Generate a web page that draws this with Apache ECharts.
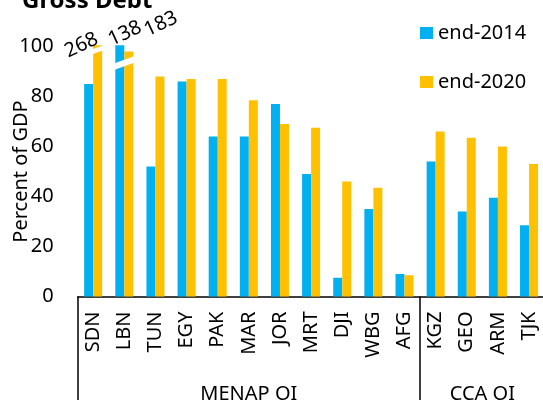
<!DOCTYPE html>
<html>
<head>
<meta charset="utf-8">
<script src="https://cdn.jsdelivr.net/npm/echarts@6/dist/echarts.min.js"></script>
<style>html,body{margin:0;padding:0;background:#fff;}#c{width:543px;height:400px;}</style>
</head>
<body>
<div id="c"></div>
<script>
// ---- data ----
const categories = ['SDN','LBN','TUN','EGY','PAK','MAR','JOR','MRT','DJI','WBG','AFG','KGZ','GEO','ARM','TJK'];
const end2014 = [85, 138, 52, 86, 64, 64, 77, 49, 7.5, 35, 9, 54, 34, 39.5, 28.5];
const end2020 = [268, 183, 88, 87, 87, 78.5, 69, 67.5, 46, 43.5, 8.5, 66, 63.5, 60, 53];
const seriesNames = ['end-2014', 'end-2020'];
const groups = [{name: 'MENAP OI', from: 0, to: 10}, {name: 'CCA OI', from: 11, to: 14}];
const yTicks = [0, 20, 40, 60, 80, 100];
// values beyond the axis are drawn truncated (broken bars)
const truncated = { 'end-2014': {LBN: 100.5}, 'end-2020': {SDN: 100.5, LBN: 98} };

// ---- styling ----
const FONT = 'Noto Sans';
const BLUE = '#00B0F0', GOLD = '#FFC000';
const BAR_W = 9;

function shown(name, arr) {
  return arr.map((v, i) => {
    const cap = truncated[name][categories[i]];
    return cap !== undefined ? Math.min(v, cap) : v;
  });
}

const chart = echarts.init(document.getElementById('c'), null, {renderer: 'canvas'});
chart.setOption({
  animation: false,
  textStyle: {fontFamily: FONT},
  grid: {left: 77.6, top: 46.5, width: 467, height: 250, containLabel: false, outerBoundsMode: 'none'},
  legend: {
    orient: 'vertical', left: 420, top: 23, padding: 0, itemWidth: 13, itemHeight: 12, itemGap: 29,
    icon: 'rect', data: seriesNames,
    textStyle: {fontFamily: FONT, fontSize: 20, color: '#000', lineHeight: 20}
  },
  xAxis: {
    type: 'category', data: categories,
    axisLine: {lineStyle: {color: '#000', width: 1.5}},
    axisTick: {show: true, length: 104, lineStyle: {color: '#000', width: 1.5},
      interval: (idx) => groups.some(g => g.from === idx)},
    axisLabel: {rotate: 90, margin: 15, fontFamily: FONT, fontSize: 20, color: '#000', interval: 0}
  },
  yAxis: {
    type: 'value', min: 0, max: yTicks[yTicks.length - 1], interval: 20,
    name: 'Percent of GDP', nameLocation: 'middle', nameRotate: 90, nameGap: 46, nameMoveOverlap: false,
    nameTextStyle: {fontFamily: FONT, fontSize: 20, color: '#000'},
    axisLine: {show: false}, axisTick: {show: false}, splitLine: {show: false},
    axisLabel: {margin: 24, fontFamily: FONT, fontSize: 20, color: '#000'}
  },
  series: [
    {name: seriesNames[0], type: 'bar', data: shown('end-2014', end2014), barWidth: BAR_W, barGap: '0%',
     itemStyle: {color: BLUE}, clip: false},
    {name: seriesNames[1], type: 'bar', data: shown('end-2020', end2020), barWidth: BAR_W, barGap: '0%',
     itemStyle: {color: GOLD}, clip: false}
  ]
});

// ---- decorations computed via axis scales ----
const px = (ci, v) => chart.convertToPixel({xAxisIndex: 0, yAxisIndex: 0}, [ci, v]);
const g = [];
// title
g.push({type: 'text', left: 22, top: -11, style: {text: 'Gross Debt', fontFamily: FONT, fontSize: 24, fontWeight: 'bold', fill: '#000'}});
// group labels
groups.forEach(gr => {
  const a = px(gr.from, 0)[0], b = px(gr.to, 0)[0];
  g.push({type: 'text', x: (a + b) / 2, y: 394, style: {text: gr.name, fontFamily: FONT, fontSize: 20, fill: '#000', align: 'center', verticalAlign: 'middle'}});
});
// break marks (white slanted bands)
const breakMarks = [
  {cat: 'SDN', from: -1, to: 11, at: 98, thick: 5},
  {cat: 'LBN', from: -11, to: 11, at: 93.4, thick: 6.5}
];
const SLOPE = -0.36;
breakMarks.forEach(b => {
  const ci = categories.indexOf(b.cat);
  const c = px(ci, b.at);
  const xc = c[0], yc = c[1];
  const x0 = xc + b.from, x1 = xc + b.to;
  const y0 = yc + SLOPE * (x0 - xc), y1 = yc + SLOPE * (x1 - xc);
  g.push({type: 'polygon', shape: {points: [[x0, y0 - b.thick / 2], [x1, y1 - b.thick / 2], [x1, y1 + b.thick / 2], [x0, y0 + b.thick / 2]]}, style: {fill: '#fff'}, z: 100});
});
// true values of truncated bars
const breakLabels = [
  {cat: 'SDN', series: 1, dx: -16.2, dy: 0},
  {cat: 'LBN', series: 0, dx: 5.2, dy: -11.7},
  {cat: 'LBN', series: 1, dx: 32.2, dy: -27.5}
];
breakLabels.forEach(l => {
  const ci = categories.indexOf(l.cat);
  const arr = l.series === 0 ? end2014 : end2020;
  const name = seriesNames[l.series];
  const top = px(ci, shown(name, arr)[ci]);
  const bx = top[0] + (l.series === 0 ? -BAR_W / 2 : BAR_W / 2);
  g.push({type: 'text', x: bx + l.dx, y: top[1] + l.dy, rotation: 25 * Math.PI / 180,
    style: {text: String(arr[ci]), fontFamily: FONT, fontSize: 20, fill: '#000', align: 'center', verticalAlign: 'middle'}, z: 101});
});
chart.setOption({graphic: g});
</script>
</body>
</html>
